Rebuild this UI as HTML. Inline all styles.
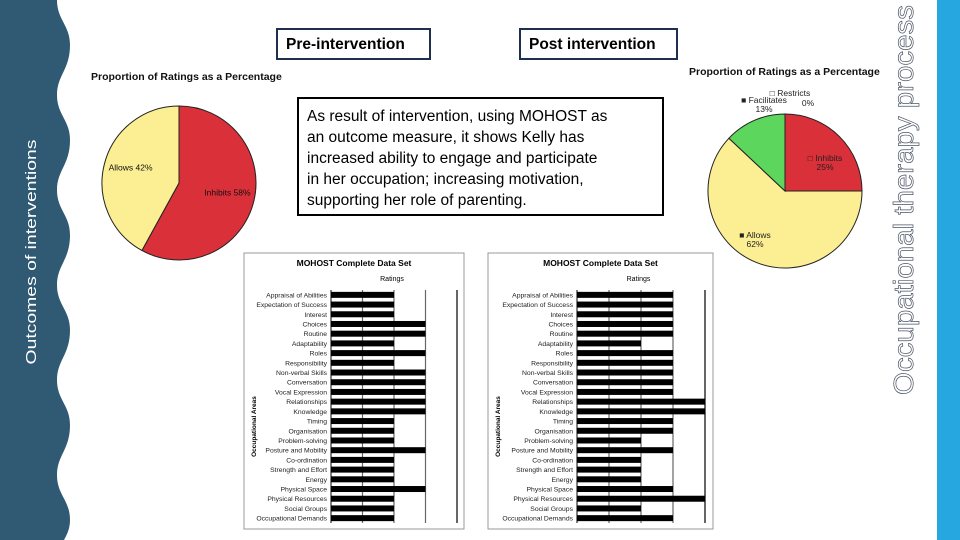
<!DOCTYPE html>
<html><head><meta charset="utf-8">
<style>
body{margin:0;width:960px;height:540px;position:relative;overflow:hidden;background:#fff;font-family:"Liberation Sans",sans-serif}
.box{position:absolute;border:2px solid #1f2f4f;font-size:16px;color:#000;box-sizing:border-box;background:#fff}
svg text{font-family:"Liberation Sans",sans-serif}
</style></head><body>
<svg width="80" height="540" style="position:absolute;left:0;top:0">
<path d="M0,0 L57,0 C57,20 70,25 70,45 C70,70 57,75 57,95 C57,115 70,120 70,140 C70,165 57,170 57,190 C57,210 70,215 70,235 C70,260 57,265 57,285 C57,305 70,310 70,330 C70,355 57,360 57,380 C57,400 70,405 70,425 C70,450 57,455 57,475 C57,495 70,500 70,520 C70,530 66,536 64,540 L0,540 Z" fill="#305a74"/>
<text x="36" y="252" transform="rotate(-90 36 252)" text-anchor="middle" fill="#fff" font-size="15" textLength="225" lengthAdjust="spacingAndGlyphs">Outcomes of interventions</text>
</svg>
<div style="position:absolute;left:937px;top:0;width:23px;height:540px;background:#27a7df"></div>
<svg width="40" height="410" style="position:absolute;left:885px;top:0">
<text x="28" y="200" transform="rotate(-90 28 200)" text-anchor="middle" fill="#fff" stroke="#4a5566" stroke-width="0.7" font-size="28" textLength="390" lengthAdjust="spacingAndGlyphs">Occupational therapy process</text>
</svg>
<div class="box" style="left:276px;top:28px;width:155px;height:32px;padding:6px 0 0 8px;font-weight:bold;font-size:15.5px">Pre-intervention</div>
<div class="box" style="left:519px;top:28px;width:159px;height:32px;padding:6px 0 0 8px;font-weight:bold;font-size:15.5px">Post intervention</div>
<div class="box" style="left:297px;top:97px;width:367px;height:119px;padding:7px 4px 0 8px;font-size:15.5px;line-height:21px;border-color:#000;white-space:nowrap">As result of intervention, using MOHOST as<br>an outcome measure, it shows Kelly has<br>increased ability to engage and participate<br>in her occupation; increasing motivation,<br>supporting her role of parenting.</div>
<svg id="pies" width="960" height="540" style="position:absolute;left:0;top:0;pointer-events:none"></svg>
<svg id="bars" width="960" height="540" style="position:absolute;left:0;top:0;pointer-events:none"></svg>
<script>
const preSlices=["Inhibits","Allows"];
const preValues=[58,42];
const preLabels=["Inhibits 58%","Allows 42%"];
const postSlices=["Inhibits","Allows","Facilitates","Restricts"];
const postValues=[25,62,13,0];
const categories=["Appraisal of Abilities","Expectation of Success","Interest","Choices","Routine","Adaptability","Roles","Responsibility","Non-verbal Skills","Conversation","Vocal Expression","Relationships","Knowledge","Timing","Organisation","Problem-solving","Posture and Mobility","Co-ordination","Strength and Effort","Energy","Physical Space","Physical Resources","Social Groups","Occupational Demands"];
const preRatings=[2,2,2,3,3,2,3,2,3,3,3,3,3,2,2,2,3,2,2,2,3,2,2,2];
const postRatings=[3,3,3,3,3,2,3,3,3,3,3,4,4,3,3,2,3,2,2,2,3,4,2,3];
const NS="http://www.w3.org/2000/svg";
function mk(p,t,a){const e=document.createElementNS(NS,t);for(const k in a)e.setAttribute(k,a[k]);p.appendChild(e);return e;}
const pies=document.getElementById('pies');
const colors={Inhibits:"#d9303a",Allows:"#fbee93",Facilitates:"#5cd65c",Restricts:"#9999cc"};
function pie(cx,cy,r,names,vals,nm){
 const tot=vals.reduce((a,b)=>a+b,0);let a0=0;const mids=[];
 names.forEach((n,i)=>{const f=vals[i]/tot;const a1=a0+f*2*Math.PI;
  if(f>0){const x0=cx+r*Math.sin(a0),y0=cy-r*Math.cos(a0),x1=cx+r*Math.sin(a1),y1=cy-r*Math.cos(a1);
  const p=mk(pies,'path',{d:`M${cx},${cy} L${x0},${y0} A${r},${r} 0 ${f>0.5?1:0} 1 ${x1},${y1} Z`,fill:colors[n],stroke:"#222","stroke-width":1});
  
  }
  mids.push((a0+a1)/2);a0=a1;});
 return mids;}
function title(x,y,nm){const t=mk(pies,'text',{x:x,y:y,"font-size":10.5,"font-weight":"bold",fill:"#111"});t.textContent="Proportion of Ratings as a Percentage";
 
 }
title(91,80,'pre-pie-title');title(689,75,'post-pie-title');
const m1=pie(179,183,77,preSlices,preValues,'pre');
preLabels.forEach((l,i)=>{const x=179+50*Math.sin(m1[i]),y=183-50*Math.cos(m1[i]);
 const t=mk(pies,'text',{x:x,y:y,"font-size":8.5,"text-anchor":"middle",fill:"#111"});t.textContent=l;
 
 });
pie(785,191,77,postSlices,postValues,'post');
const postLbl=[[825,161,"□ Inhibits",postValues[0]+"%"],[755,238,"■ Allows",postValues[1]+"%"],[764,103,"■ Facilitates",postValues[2]+"%"],[790,96,"□ Restricts",postValues[3]+"%"]];
postLbl.forEach((l,i)=>{const t=mk(pies,'text',{x:l[0],y:l[1],"font-size":8.5,"text-anchor":"middle",fill:"#222"});t.textContent=l[2];
 
 
 const t2=mk(pies,'text',{x:l[0]+(i==3?18:0),y:l[1]+(i==3?10:9),"font-size":8.5,"text-anchor":"middle",fill:"#222"});t2.textContent=l[3];
 
 });
const bars=document.getElementById('bars');
function barChart(bx,by,bw,bh,x0,x1,vals,nm){
 const fr=mk(bars,'rect',{x:bx,y:by,width:bw,height:bh,fill:"#fff",stroke:"#999","stroke-width":1});
 
 
 const t=mk(bars,'text',{x:bx+bw/2,y:by+13,"font-size":8.5,"font-weight":"bold","text-anchor":"middle"});t.textContent="MOHOST Complete Data Set";
 
 
 const rt=mk(bars,'text',{x:bx+bw/2+38,y:by+28,"font-size":7,"text-anchor":"middle"});rt.textContent="Ratings";
 
 
 const top=by+37,bot=by+bh-6;const sx=v=>x0+(x1-x0)*v/4;
 for(let g=1;g<=4;g++){const l=mk(bars,'line',{x1:sx(g),x2:sx(g),y1:top,y2:bot,stroke:g==4?"#000":"#666","stroke-width":1.2});
  
  }
 mk(bars,'line',{x1:x0,x2:x0,y1:top,y2:bot,stroke:"#000"});
 const step=(bot-top)/categories.length;
 categories.forEach((c,i)=>{const cy=top+step*(i+0.5);
  const r=mk(bars,'rect',{x:x0,y:cy-3,width:sx(vals[i])-x0,height:6,fill:"#000"});
  
  
  const tl=mk(bars,'text',{x:x0-4,y:cy+2.5,"font-size":6.8,"text-anchor":"end",fill:"#222"});tl.textContent=c;
  
  });
 const ya=mk(bars,'text',{x:bx+12,y:(top+bot)/2+20,"font-size":6.5,"font-weight":"bold","text-anchor":"middle",transform:`rotate(-90 ${bx+12} ${(top+bot)/2+20})`});ya.textContent="Occupational Areas";
 
 }
barChart(244,253,220,276,331,457,preRatings,'pre-chart');
barChart(488,253,225,276,577,705,postRatings,'post-chart');
</script>
</body></html>
